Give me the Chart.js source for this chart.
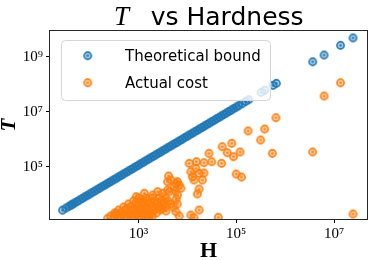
<!DOCTYPE html>
<html>
<head>
<meta charset="utf-8">
<script src="https://cdn.jsdelivr.net/npm/chart.js@4.4.0/dist/chart.umd.min.js"></script>
<style>
  html, body { margin: 0; padding: 0; background: #fff; }
</style>
</head>
<body>
<canvas id="hardnessChart" width="372" height="260"></canvas>
<script>
const seriesNames = ['Theoretical bound', 'Actual cost'];

// theoretical bound
const boundH = [28, 33, 38, 42, 45, 50, 56, 63, 71, 80, 89, 100, 112, 126, 141, 158, 178, 200, 224, 251,
    282, 316, 355, 398, 447, 501, 562, 631, 708, 794, 891, 1000, 1122, 1259, 1413, 1585, 1778, 1995, 2239, 2512,
    2818, 3162, 3548, 3981, 4467, 5012, 5623, 6310, 7079, 7943, 8913, 10000, 11220, 12590, 14130, 15850, 17780,
    19950, 22390, 25120, 28180, 31620, 35480, 39810, 44670, 50120, 56230, 63100, 70790, 79430, 89130, 100000,
    112200, 132000, 155000, 180000, 322000, 383000, 565000, 662000, 3670000, 6270000, 13600000, 24500000];
const boundT = [2640, 3140, 3640, 4040, 4350, 4860, 5480, 6210, 7040, 7980, 8930, 10100, 11400, 12900, 14500,
    16400, 18500, 21000, 23600, 26600, 30100, 33900, 38400, 43300, 48900, 55200, 62300, 70400, 79500, 89700,
    101000, 114000, 129000, 146000, 164000, 186000, 210000, 237000, 267000, 302000, 340000, 384000, 434000,
    490000, 553000, 624000, 705000, 796000, 898000, 1010000, 1150000, 1290000, 1460000, 1650000, 1860000,
    2100000, 2370000, 2680000, 3020000, 3410000, 3860000, 4350000, 4910000, 5550000, 6270000, 7080000, 7990000,
    9020000, 10200000, 11500000, 13000000, 14700000, 16500000, 19600000, 23300000, 27300000, 50300000, 60400000,
    91000000, 107500000, 653000000, 1149000000, 2590000000, 4830000000];

// actual cost
const costH = [13600000, 6270000, 647000, 381000, 316000, 175000, 547000, 3660000, 24500000, 120000,
    81000, 88100, 99500, 128000, 51600, 65300, 27700, 31500, 50200, 10900,
    15300, 21900, 11800, 14900, 17400, 13700, 20300, 12700, 21900, 17400,
    16000, 4620, 6300, 7380, 5400, 6810, 4270, 6300, 17400, 11800,
    6810, 42900, 13700, 3660, 4130, 5830, 3940, 898, 1320, 1950,
    2470, 3120, 3940, 5830, 352, 234, 1220, 5920, 6210, 5650,
    1000, 1387, 1928, 2673, 3540,
    791, 1100, 1524, 2113, 2931, 4070,
    933, 1294, 1795, 2489, 3451,
    627, 869, 1205, 1675, 2323, 3220, 4470,
    496, 687, 955, 1324, 1837, 2550, 3540, 5140,
    583, 811, 1125, 1560, 2163, 3006,
    392, 544, 755, 1047, 1455, 2018, 2799,
    325, 451, 627, 869, 1205, 1675, 2323,
    349, 484, 671, 933, 1294, 1795,
    270, 374, 519, 721, 1000, 1387, 1928,
    310, 431, 597, 830, 1151, 1596,
    411, 791, 1524];
const costT = [113000000, 37200000, 6050000, 2350000, 935000, 1990000, 307000, 343000, 1905, 343000,
    710000, 231000, 54300, 42200, 533000, 323000, 307000, 152000, 133000, 133000,
    152000, 140000, 65800, 87500, 57500, 32800, 32800, 43300, 59000, 15500,
    10200, 32800, 28500, 16400, 18800, 21600, 12300, 9350, 2660, 1750,
    1610, 1450, 1400, 2450, 45900, 24900, 28500, 8110, 10800, 9350,
    12300, 10800, 14200, 2310, 2070, 1330, 5330, 6700, 4410, 13100,
    7280, 7280, 7280, 7280, 7280,
    5660, 5660, 5660, 5660, 5660, 5660,
    4990, 4990, 4990, 4990, 4990,
    4410, 4410, 4410, 4410, 4410, 4410, 4410,
    3430, 3430, 3430, 3430, 3430, 3430, 3430, 3430,
    3020, 3020, 3020, 3020, 3020, 3020,
    2660, 2660, 2660, 2660, 2660, 2660, 2660,
    2070, 2070, 2070, 2070, 2070, 2070, 2070,
    1828, 1828, 1828, 1828, 1828, 1828,
    1610, 1610, 1610, 1610, 1610, 1610, 1610,
    1250, 1250, 1250, 1250, 1250, 1250,
    900, 900, 900];

const xTickVals = [1e3, 1e5, 1e7];
const xTickLabels = ['10³', '10⁵', '10⁷'];
const yTickVals = [1e5, 1e7, 1e9];
const yTickLabels = ['10⁵', '10⁷', '10⁹'];

const blue = '#1f77b4';
const orange = '#ff7f0e';

// ring, pale inside, dark dot in the middle
function makeMarker(color) {
    const c = document.createElement('canvas');
    c.width = 11; c.height = 11;
    const g = c.getContext('2d');
    g.fillStyle = color;
    g.globalAlpha = 0.35;
    g.beginPath();
    g.arc(5.5, 5.5, 3.6, 0, Math.PI * 2);
    g.fill();
    g.globalAlpha = 1;
    g.strokeStyle = color;
    g.lineWidth = 1.6;
    g.beginPath();
    g.arc(5.5, 5.5, 3.6, 0, Math.PI * 2);
    g.stroke();
    g.beginPath();
    g.arc(5.5, 5.5, 1.3, 0, Math.PI * 2);
    g.fill();
    return c;
}

const decorations = {
    id: 'decorations',
    afterDatasetsDraw(chart) {
        const { ctx, chartArea: a } = chart;
        ctx.save();

        // axes frame
        ctx.strokeStyle = '#262626';
        ctx.lineWidth = 1;
        ctx.strokeRect(a.left - 0.5, a.top - 0.5, a.right - a.left + 1, a.bottom - a.top + 1);

        // legend box
        const lx = a.left + 11, ly = a.top + 9, lw = 209, lh = 60;
        ctx.beginPath();
        ctx.roundRect(lx + 0.5, ly + 0.5, lw, lh, 4);
        ctx.fillStyle = 'rgba(255,255,255,0.8)';
        ctx.fill();
        ctx.strokeStyle = '#d6d6d6';
        ctx.stroke();

        chart.data.datasets.forEach((ds, i) => {
            const my = ly + 15.7 + i * 27;
            ctx.drawImage(ds.pointStyle, lx + 26.7 - 5.5, my - 5.5);
            ctx.fillStyle = '#000';
            ctx.font = '15px "DejaVu Sans"';
            ctx.textBaseline = 'middle';
            ctx.textAlign = 'left';
            ctx.fillText(ds.label, lx + 64, my + 1);
        });

        // title
        const cx = (a.left + a.right) / 2;
        ctx.textBaseline = 'alphabetic';
        ctx.font = 'italic 27px "Liberation Serif"';
        ctx.fillText('T', cx - 94.5, 25);
        ctx.font = '25px "DejaVu Sans"';
        ctx.fillText('vs Hardness', cx - 57.8, 25);

        ctx.restore();
    }
};

const ctx = document.getElementById('hardnessChart');

new Chart(ctx, {
    type: 'scatter',
    data: {
        datasets: [{
                label: seriesNames[0],
                data: boundH.map((h, i) => ({ x: h, y: boundT[i] })),
                pointStyle: makeMarker(blue),
                pointRadius: 4,
                borderColor: blue,
                backgroundColor: blue,
                clip: 0,
                order: 1
            },
            {
                label: seriesNames[1],
                data: costH.map((h, i) => ({ x: h, y: costT[i] })),
                pointStyle: makeMarker(orange),
                pointRadius: 4,
                borderColor: orange,
                backgroundColor: orange,
                clip: 0,
                order: 0
            }
        ]
    },
    options: {
        responsive: false,
        animation: false,
        devicePixelRatio: 1,
        events: [],
        layout: { padding: { top: 31, right: 3, bottom: 0, left: 0 } },
        plugins: {
            legend: { display: false },
            tooltip: { enabled: false }
        },
        scales: {
            x: {
                type: 'logarithmic',
                min: 15.5,
                max: 4.73e7,
                afterBuildTicks: s => { s.ticks = xTickVals.map(v => ({ value: v })); },
                afterFit: s => { s.height = 41; },
                border: { display: false },
                grid: { drawOnChartArea: false, drawTicks: true, tickLength: 4, color: '#000', lineWidth: 1 },
                ticks: {
                    callback: (v, i) => xTickLabels[i],
                    font: { family: 'Liberation Serif', size: 15 },
                    color: '#000',
                    padding: 2,
                    maxRotation: 0,
                    autoSkip: false
                },
                title: {
                    display: true,
                    text: 'H',
                    color: '#000',
                    font: { family: 'Liberation Serif', size: 22, weight: 'bold', lineHeight: 1 },
                    padding: { top: 0, bottom: -2 }
                }
            },
            y: {
                type: 'logarithmic',
                min: 1256,
                max: 8.61e9,
                afterBuildTicks: s => { s.ticks = yTickVals.map(v => ({ value: v })); },
                afterFit: s => { s.width = 50; },
                border: { display: false },
                grid: { drawOnChartArea: false, drawTicks: true, tickLength: 4, color: '#000', lineWidth: 1 },
                ticks: {
                    callback: (v, i) => yTickLabels[i],
                    font: { family: 'Liberation Serif', size: 15 },
                    color: '#000',
                    padding: 3,
                    autoSkip: false
                },
                title: {
                    display: true,
                    text: 'T',
                    color: '#000',
                    font: { family: 'Liberation Serif', size: 21, weight: 'bold', style: 'italic', lineHeight: 1 },
                    padding: { top: -1, bottom: 0 }
                }
            }
        }
    },
    plugins: [decorations]
});
</script>
</body>
</html>
